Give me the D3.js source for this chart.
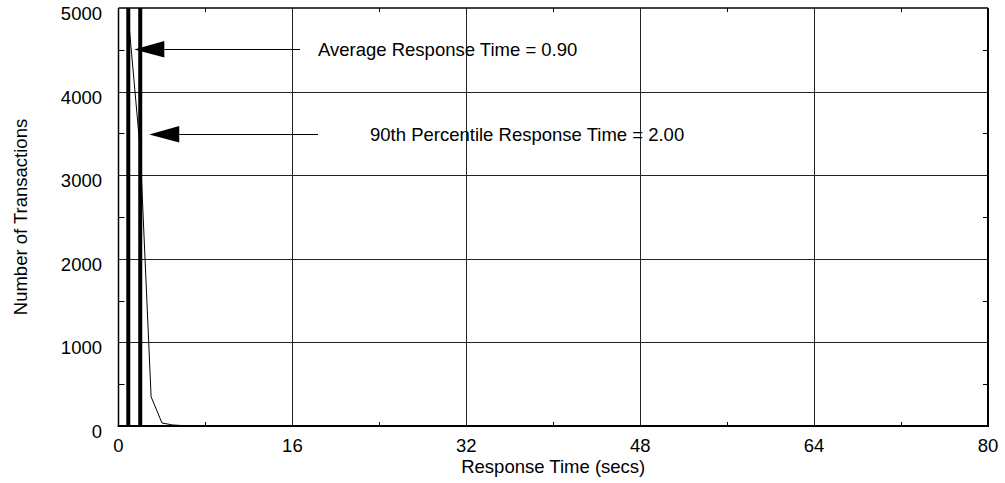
<!DOCTYPE html>
<html>
<head>
<meta charset="utf-8">
<script src="https://cdn.jsdelivr.net/npm/d3@7"></script>
<style>
  html, body { margin: 0; padding: 0; background: #fff; }
  svg { display: block; font-family: "Liberation Sans", Arial, Helvetica, sans-serif; }
</style>
</head>
<body>
<svg id="chart" width="1005" height="483"></svg>
<script>
// Response-time distribution: transactions per 1-second bucket
const responseTimes = [1, 2, 3, 4, 5, 6, 7, 8, 9, 10];
const transactionCounts = [4750, 3300, 350, 36, 12, 4, 1, 0, 0, 0];

// Summary statistics marked on the chart
const statNames = ["Average Response Time", "90th Percentile Response Time"];
const statValues = [0.90, 2.00];

// Axis ticks
const xTickValues = [0, 16, 32, 48, 64, 80];
const xMinorTicks = [8, 24, 40, 56, 72];
const yTickValues = [0, 1000, 2000, 3000, 4000, 5000];
const yMinorTicks = [500, 1500, 2500, 3500, 4500];

const svg = d3.select("#chart");
const W = 1005, H = 483;
const pL = 118.5, pR = 988, pT = 8, pB = 426;

svg.append("rect").attr("width", W).attr("height", H).attr("fill", "#fff");

const x = d3.scaleLinear().domain([0, 80]).range([pL, pR]);
const y = d3.scaleLinear().domain([0, 5000]).range([pB, pT]);
const px = v => Math.round(x(v)) + 0.5;
const py = v => Math.round(y(v)) + 0.5;

// Grid lines
const grid = svg.append("g").attr("stroke", "#222").attr("stroke-width", 1);
grid.selectAll("line.v").data(xTickValues.slice(1, -1)).join("line")
  .attr("x1", px).attr("x2", px)
  .attr("y1", pT).attr("y2", pB);
grid.selectAll("line.h").data(yTickValues.slice(1, -1)).join("line")
  .attr("x1", pL).attr("x2", pR)
  .attr("y1", py).attr("y2", py);

// Minor ticks on all four sides
const minor = svg.append("g").attr("stroke", "#000").attr("stroke-width", 1);
minor.append("g").selectAll("line").data(xMinorTicks).join("line")
  .attr("x1", px).attr("x2", px)
  .attr("y1", pB).attr("y2", pB - 4);
minor.append("g").selectAll("line").data(xMinorTicks).join("line")
  .attr("x1", px).attr("x2", px)
  .attr("y1", pT).attr("y2", pT + 4);
minor.append("g").selectAll("line").data(yMinorTicks).join("line")
  .attr("x1", pL).attr("x2", pL + 6)
  .attr("y1", py).attr("y2", py);
minor.append("g").selectAll("line").data(yMinorTicks).join("line")
  .attr("x1", pR).attr("x2", pR - 5)
  .attr("y1", py).attr("y2", py);

// Distribution curve
const line = d3.line().x((d, i) => x(responseTimes[i])).y(d => y(d));
svg.append("path")
  .datum(transactionCounts)
  .attr("d", line)
  .attr("fill", "none")
  .attr("stroke", "#000")
  .attr("stroke-width", 1);

// Thick markers for average and 90th percentile
svg.append("g").selectAll("line").data(statValues).join("line")
  .attr("x1", d => x(d)).attr("x2", d => x(d))
  .attr("y1", pT).attr("y2", pB)
  .attr("stroke", "#000").attr("stroke-width", 4);

// Frame
svg.append("line").attr("x1", pL).attr("x2", pL).attr("y1", pT).attr("y2", pB + 1)
  .attr("stroke", "#000").attr("stroke-width", 1.5);
svg.append("line").attr("x1", pR).attr("x2", pR).attr("y1", pT).attr("y2", pB + 1)
  .attr("stroke", "#000").attr("stroke-width", 2);
svg.append("line").attr("x1", pL).attr("x2", pR).attr("y1", pT).attr("y2", pT)
  .attr("stroke", "#000").attr("stroke-width", 1.5);
svg.append("line").attr("x1", pL - 0.75).attr("x2", pR + 1).attr("y1", pB).attr("y2", pB)
  .attr("stroke", "#000").attr("stroke-width", 2);

// Axis tick labels
const fontSize = 18.5;
svg.append("g").selectAll("text").data(xTickValues).join("text")
  .attr("x", d => x(d)).attr("y", 452)
  .attr("text-anchor", "middle")
  .attr("font-size", fontSize).attr("fill", "#000")
  .text(d => d);
svg.append("g").selectAll("text").data(yTickValues).join("text")
  .attr("x", 102).attr("y", d => y(d) + 12)
  .attr("text-anchor", "end")
  .attr("font-size", fontSize).attr("fill", "#000")
  .text(d => d);

// Axis titles
svg.append("text")
  .attr("x", (pL + pR) / 2).attr("y", 473)
  .attr("text-anchor", "middle")
  .attr("font-size", fontSize).attr("fill", "#000")
  .text("Response Time (secs)");
svg.append("text")
  .attr("transform", `translate(27,${(pT + pB) / 2}) rotate(-90)`)
  .attr("text-anchor", "middle")
  .attr("font-size", fontSize).attr("fill", "#000")
  .text("Number of Transactions");

// Annotation arrows pointing at the marker lines
const arrowY = [49, 134];
const arrowTail = [300, 318];
const labelX = [318, 370];
const gap = [4, 7];
statValues.forEach((v, i) => {
  const tip = x(v) + 2 + gap[i];
  const base = tip + 30;
  svg.append("line")
    .attr("x1", base).attr("x2", arrowTail[i])
    .attr("y1", arrowY[i] + 0.5).attr("y2", arrowY[i] + 0.5)
    .attr("stroke", "#000").attr("stroke-width", 1);
  svg.append("path")
    .attr("d", `M${tip},${arrowY[i] + 0.5} L${base},${arrowY[i] - 8} L${base},${arrowY[i] + 8.5} Z`)
    .attr("fill", "#000");
  svg.append("text")
    .attr("x", labelX[i]).attr("y", arrowY[i] + 6.5)
    .attr("font-size", fontSize).attr("fill", "#000")
    .text(`${statNames[i]} = ${v.toFixed(2)}`);
});
</script>
</body>
</html>
